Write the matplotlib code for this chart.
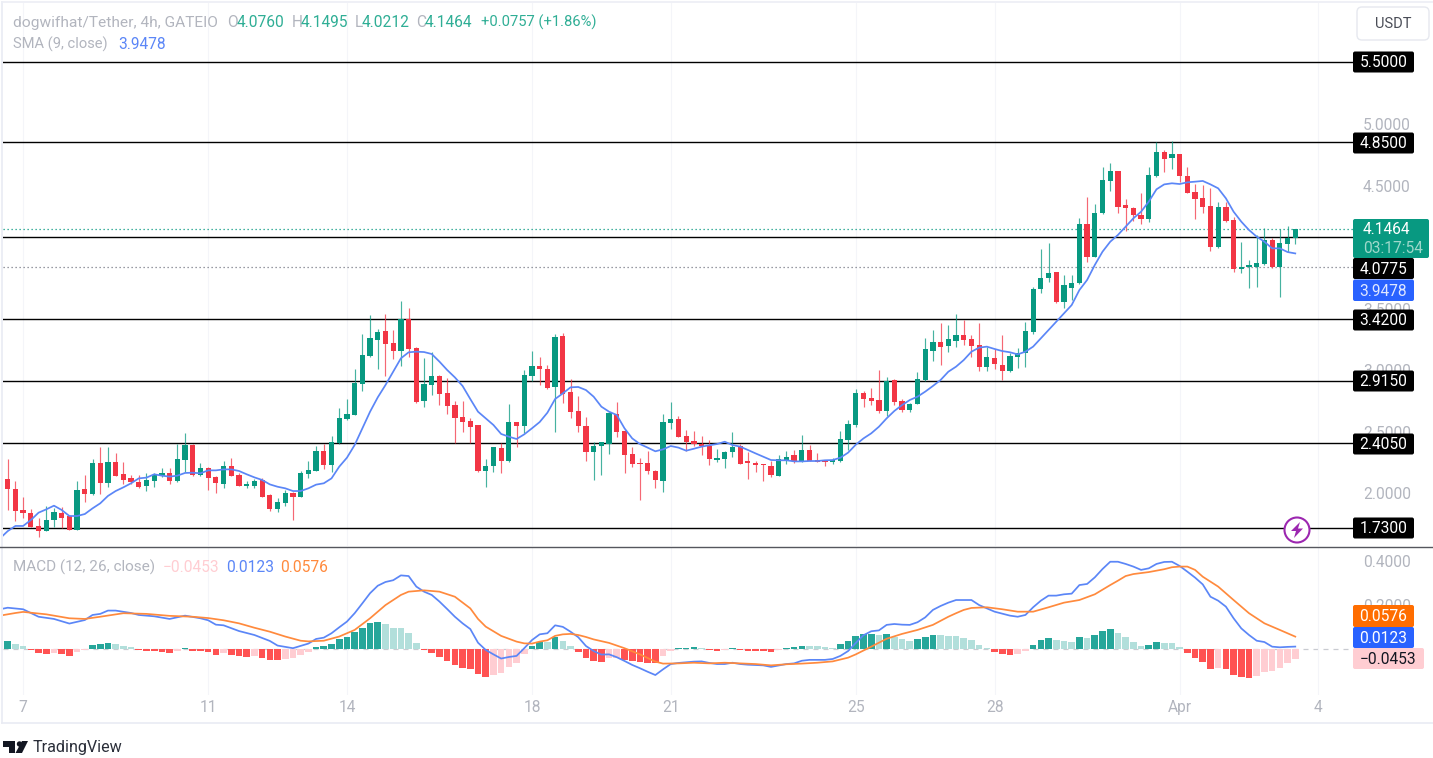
import numpy as np
import matplotlib
matplotlib.use("Agg")
import matplotlib.pyplot as plt
from matplotlib.patches import FancyBboxPatch, Circle, Polygon, Rectangle

# ---------- data ----------
opens = [2.114,2.033,1.862,1.835,1.729,1.694,1.780,1.835,1.810,1.699,
 2.033,1.992,2.241,2.084,2.249,2.157,2.125,2.092,2.060,2.100,
 2.141,2.165,2.100,2.266,2.388,2.144,2.206,2.133,2.076,2.222,
 2.149,2.060,2.060,2.106,1.984,1.870,1.919,2.000,1.970,2.157,
 2.182,2.339,2.225,2.404,2.602,2.634,2.889,3.111,3.244,3.317,
 3.220,3.152,3.412,3.179,2.751,2.881,2.954,2.816,2.715,2.618,
 2.585,2.553,2.176,2.217,2.363,2.257,2.575,2.545,2.954,3.035,
 3.011,2.859,3.276,2.821,2.667,2.545,2.333,2.382,2.398,2.642,
 2.504,2.314,2.244,2.241,2.179,2.100,2.569,2.599,2.463,2.423,
 2.401,2.379,2.271,2.274,2.331,2.382,2.257,2.247,2.236,2.222,
 2.141,2.268,2.306,2.260,2.347,2.271,2.260,2.249,2.257,2.431,
 2.553,2.816,2.772,2.756,2.667,2.916,2.748,2.675,2.724,2.919,
 3.154,3.225,3.195,3.238,3.285,3.249,3.201,3.022,3.095,3.043,
 2.989,3.103,3.141,3.309,3.656,3.745,3.794,3.556,3.669,3.705,
 4.190,3.919,4.274,4.537,4.618,4.344,4.320,4.263,4.230,4.577,
 4.772,4.724,4.756,4.575,4.444,4.396,4.336,4.000,4.328,4.219,
 3.821,3.840,3.837,3.862,4.057,3.837,4.024,4.076]
closes = [2.035,1.856,1.840,1.721,1.694,1.780,1.846,1.797,1.699,2.024,
 1.995,2.241,2.084,2.249,2.141,2.108,2.089,2.051,2.106,2.146,
 2.165,2.100,2.274,2.388,2.144,2.206,2.125,2.084,2.222,2.141,
 2.060,2.068,2.098,1.970,1.870,1.927,1.997,1.970,2.165,2.190,
 2.339,2.225,2.412,2.610,2.642,2.897,3.119,3.257,3.309,3.211,
 3.154,3.412,3.168,2.743,2.889,2.954,2.808,2.707,2.610,2.577,
 2.537,2.176,2.222,2.371,2.257,2.577,2.545,2.962,3.035,3.005,
 2.856,3.268,2.808,2.661,2.545,2.333,2.382,2.415,2.650,2.496,
 2.309,2.233,2.233,2.176,2.103,2.577,2.602,2.455,2.415,2.398,
 2.379,2.274,2.282,2.336,2.374,2.233,2.241,2.225,2.225,2.149,
 2.279,2.295,2.257,2.347,2.260,2.249,2.252,2.266,2.439,2.561,
 2.816,2.767,2.751,2.667,2.911,2.740,2.675,2.724,2.930,3.168,
 3.228,3.187,3.249,3.285,3.244,3.195,3.022,3.103,3.049,2.989,
 3.111,3.135,3.317,3.661,3.751,3.786,3.556,3.688,3.705,4.190,
 3.919,4.279,4.542,4.618,4.328,4.320,4.260,4.230,4.585,4.772,
 4.715,4.756,4.577,4.436,4.388,4.328,4.003,4.328,4.211,3.821,
 3.837,3.846,3.867,4.057,3.837,4.033,4.076,4.1464]
highs = [2.274,2.100,1.965,1.867,1.794,1.894,1.875,1.883,1.813,2.100,
 2.149,2.274,2.371,2.371,2.322,2.249,2.146,2.146,2.165,2.165,
 2.201,2.201,2.398,2.485,2.398,2.247,2.214,2.138,2.263,2.282,
 2.165,2.098,2.111,2.119,1.992,1.959,2.024,2.011,2.182,2.263,
 2.382,2.398,2.463,2.691,2.764,3.005,3.293,3.447,3.331,3.455,
 3.325,3.564,3.504,3.184,3.095,3.144,2.962,2.938,2.745,2.748,
 2.607,2.556,2.279,2.377,2.404,2.724,2.577,3.000,3.152,3.103,
 3.038,3.293,3.298,2.930,2.789,2.618,2.415,2.417,2.659,2.740,
 2.512,2.374,2.282,2.344,2.187,2.642,2.740,2.626,2.512,2.504,
 2.463,2.431,2.355,2.344,2.496,2.398,2.333,2.257,2.236,2.257,
 2.306,2.339,2.350,2.472,2.388,2.322,2.271,2.282,2.504,2.593,
 2.848,2.829,2.856,2.997,2.946,2.924,2.764,2.734,2.981,3.260,
 3.325,3.382,3.366,3.455,3.409,3.285,3.382,3.187,3.171,3.285,
 3.135,3.176,3.388,3.677,3.984,4.033,3.799,3.770,3.775,4.236,
 4.404,4.352,4.650,4.683,4.621,4.388,4.328,4.436,4.650,4.854,
 4.789,4.862,4.756,4.650,4.509,4.501,4.477,4.369,4.369,4.241,
 4.041,3.894,4.098,4.152,4.070,4.144,4.171,4.1495]
lows = [1.862,1.775,1.797,1.721,1.640,1.694,1.721,1.715,1.699,1.699,
 1.927,1.986,1.992,2.046,2.141,2.073,2.073,2.043,2.019,2.051,
 2.127,2.073,2.092,2.168,2.141,2.141,2.024,2.003,2.041,2.141,
 2.060,2.041,2.043,1.970,1.856,1.846,1.897,1.780,1.970,2.125,
 2.182,2.198,2.173,2.398,2.593,2.634,2.832,3.108,3.005,2.954,
 3.087,3.035,3.103,2.729,2.702,2.799,2.715,2.645,2.404,2.496,
 2.404,2.173,2.051,2.173,2.165,2.249,2.377,2.485,2.911,2.881,
 2.843,2.496,2.734,2.610,2.499,2.263,2.106,2.146,2.317,2.458,
 2.165,2.209,1.943,2.152,2.043,2.011,2.520,2.455,2.341,2.382,
 2.306,2.225,2.249,2.201,2.295,2.233,2.117,2.168,2.100,2.133,
 2.141,2.233,2.241,2.249,2.257,2.249,2.220,2.238,2.249,2.350,
 2.537,2.702,2.715,2.653,2.626,2.718,2.661,2.661,2.721,2.913,
 3.070,3.038,3.144,3.184,3.203,3.103,2.995,2.989,3.011,2.919,
 2.986,3.014,3.027,3.293,3.623,3.718,3.547,3.507,3.569,3.699,
 3.878,3.916,4.268,4.453,4.274,4.133,4.211,4.190,4.206,4.572,
 4.607,4.634,4.526,4.436,4.230,4.279,3.967,3.995,4.206,3.799,
 3.786,3.664,3.677,3.854,3.832,3.591,3.962,4.0212]

sma_bar = list(range(0, 87)) + list(range(87, 169))
sma_val = [1.631,1.690,1.732,1.732,1.780,1.840,1.867,1.897,1.862,1.813,1.813,1.829,1.875,1.916,1.976,2.016,2.046,2.079,2.119,2.125,
 2.152,2.141,2.133,2.141,2.163,2.165,2.160,2.184,2.184,2.192,2.192,2.179,2.152,2.127,2.106,2.070,2.051,2.038,2.016,2.016,
 2.038,2.068,2.079,2.119,2.214,2.287,2.390,2.526,2.661,2.778,2.878,2.986,3.095,3.144,3.149,3.146,3.130,3.068,3.000,2.940,
 2.870,2.764,2.661,2.607,2.553,2.480,2.458,2.439,2.477,2.526,2.577,2.653,2.764,2.810,2.859,2.862,2.837,2.783,2.702,2.661,
 2.634,2.526,2.444,2.398,2.369,2.339,2.355,
 2.382,2.369,2.344,2.360,2.377,2.388,2.398,2.417,2.390,2.377,2.350,2.322,2.295,2.268,2.266,2.266,2.257,2.257,2.260,2.260,
 2.266,2.268,2.287,2.328,2.393,2.444,2.485,2.539,2.607,2.667,2.715,2.756,2.783,2.824,2.870,2.919,2.986,3.027,3.081,3.149,
 3.182,3.190,3.171,3.154,3.144,3.127,3.149,3.190,3.257,3.325,3.393,3.461,3.528,3.650,3.732,3.854,3.962,4.043,4.098,4.165,
 4.233,4.287,4.369,4.469,4.509,4.518,4.512,4.526,4.531,4.537,4.509,4.477,4.396,4.287,4.206,4.138,4.084,4.043,3.989,3.989,
 3.959,3.9478]

macd_bar = [0,1,3,5,7,9,11,12,13,14,15,17,18,20,22,24,26,27,28,29,31,33,35,36,38,40,41,42,43,44,45,46,47,48,49,50,51,52,53,54,55,56,57,58,59,60,61,
 62,63,64,65,66,67,68,69,70,71,72,73,74,75,76,77,78,79,80,81,82,83,84,85,86,87,88,89,90,91,92,93,94,95,96,97,99,100,102,103,104,105,107,108,109,110,
 111,112,113,114,115,116,117,118,119,120,121,122,123,124,126,127,129,131,132,133,134,135,136,137,138,139,140,141,142,143,144,145,146,147,148,149,150,
 151,152,153,154,155,156,157,158,159,160,161,162,163,164,165,166,167,168]
macd_val = [.182,.189,.182,.148,.138,.117,.133,.156,.161,.176,.176,.165,.156,.150,.138,.153,.141,.132,.112,.109,.083,.065,.038,.017,.005,.026,.047,.053,.073,.100,.126,.164,.209,.255,.289,.306,.314,.336,.333,.285,.262,.247,.217,.183,.148,.118,.092,
 .030,-.003,-.023,-.042,-.035,-.030,.005,.042,.068,.073,.109,.102,.080,.055,.015,-.008,-.024,-.023,-.036,-.053,-.071,-.086,-.102,-.117,-.091,-.067,-.062,-.059,-.056,-.055,-.062,-.067,-.067,-.061,-.067,-.070,-.073,-.080,-.067,-.064,-.052,-.048,-.048,-.044,-.030,-.008,
 .029,.064,.082,.086,.111,.115,.112,.111,.123,.145,.179,.197,.212,.224,.224,.201,.171,.153,.148,.156,.191,.221,.244,.244,.250,.253,.292,.297,.327,.365,.398,.398,.388,.376,.361,.368,.388,
 .397,.398,.379,.353,.326,.295,.239,.221,.194,.141,.095,.065,.039,.033,.012,.009,.011,.0123]

signal_bar = [0,2,3,6,9,11,13,16,19,22,25,27,29,31,33,35,37,39,40,42,44,46,48,50,52,53,55,57,59,61,62,63,65,67,68,69,70,71,72,73,74,75,76,77,79,81,83,85,86,88,90,92,94,96,98,100,102,104,106,108,110,111,113,115,117,119,121,123,124,125,126,128,130,132,134,136,138,140,142,144,145,146,147,149,151,152,153,154,155,156,158,160,162,164,166,168]
signal_val = [.153,.165,.170,.159,.141,.138,.148,.164,.161,.152,.148,.142,.132,.118,.098,.080,.058,.039,.036,.039,.058,.088,.141,.201,.247,.262,.268,.262,.239,.186,.138,.103,.061,.035,.027,.026,.035,.041,.061,.068,.070,.065,.056,.045,.029,.005,-.023,-.056,-.065,-.064,-.061,-.064,-.061,-.064,-.067,-.073,-.068,-.065,-.061,-.055,-.038,-.023,.012,.048,.070,.088,.111,.148,.164,.179,.188,.191,.182,.171,.171,.191,.212,.224,.250,.292,.312,.333,.342,.351,.364,.373,.376,.376,.361,.330,.285,.224,.164,.118,.088,.0576]

hist_val = [.036,.026,.017,-.003,-.015,-.021,-.015,-.021,-.030,-.011,
 -.005,.021,.022,.027,.026,.017,.011,-.003,-.008,-.009,
 -.010,-.015,-.008,.006,-.008,-.009,-.014,-.026,-.018,-.027,
 -.030,-.033,-.032,-.039,-.048,-.050,-.045,-.041,-.026,-.012,
 .012,.015,.026,.047,.058,.079,.098,.118,.123,.114,
 .098,.097,.073,.027,-.003,-.015,-.035,-.053,-.073,-.086,
 -.089,-.112,-.124,-.115,-.109,-.082,-.064,-.021,.015,.033,
 .032,.056,.036,.015,-.012,-.039,-.053,-.058,-.039,-.038,
 -.050,-.055,-.056,-.061,-.062,-.030,-.006,.006,.007,.011,
 .006,-.005,-.008,-.003,.006,-.003,-.006,-.007,-.008,-.011,
 -.003,.006,.009,.015,.014,.013,.011,.008,.024,.038,
 .061,.070,.071,.064,.070,.055,.048,.038,.045,.056,
 .064,.063,.062,.061,.052,.042,.021,.008,-.011,-.020,
 -.024,-.023,-.009,.021,.042,.052,.044,.039,.035,.058,
 .053,.065,.085,.094,.076,.058,.035,.015,.021,.035,
 .030,.029,.012,-.015,-.041,-.056,-.088,-.086,-.091,-.118,
 -.127,-.132,-.121,-.103,-.100,-.083,-.064,-.0453]

level_price = [5.505, 4.85, 4.0775, 3.412, 2.912, 2.405, 1.714]
time_tick_bar = [3, 27, 45, 69, 87, 111, 129, 153, 171]
time_tick_label = ['7', '11', '14', '18', '21', '25', '28', 'Apr', '4']
price_ticks = [2.0, 2.5, 3.0, 3.5, 4.5, 5.0]
macd_ticks = [0.2, 0.4]

# ---------- style ----------
plt.rcParams['font.family'] = ['Roboto', 'DejaVu Sans']
W, H = 1433, 758
UP, DOWN = '#089981', '#f23645'
GREY = '#b2b5be'
BLUE, ORANGE = '#5b86f7', '#ff8a3d'
LBL = 11.2

fig = plt.figure(figsize=(W / 100, H / 100), dpi=100, facecolor='white')

def axes_px(x0, y0, x1, y1):
    return fig.add_axes([x0 / W, 1 - y1 / H, (x1 - x0) / W, (y1 - y0) / H])

X0, X1 = 3, 1353
bar_px, step = 7.7, 7.71
xlim = (1 + (X0 - bar_px) / step, 1 + (X1 - bar_px) / step)

ax = axes_px(X0, 3, X1, 546)
ax.set_xlim(xlim)
ax.set_ylim(2 + (493 - 546) / 123, 2 + (493 - 3) / 123)
mx = axes_px(X0, 548, X1, 695)
mx.set_xlim(xlim)
mx.set_ylim((649.3 - 695) / 220, (649.3 - 548) / 220)

for a in (ax, mx):
    for s in a.spines.values():
        s.set_visible(False)
    a.yaxis.tick_right()
    a.tick_params(axis='y', length=0, pad=7.2, labelsize=LBL, labelcolor=GREY)
    a.set_xticks(time_tick_bar)
    a.grid(True, axis='x', color='#f4f5f9', lw=0.8, zorder=0)
ax.tick_params(axis='x', length=0, labelbottom=False)
mx.set_xticklabels(time_tick_label)
mx.tick_params(axis='x', length=0, pad=3.5, labelsize=LBL, labelcolor=GREY)
ax.set_yticks(price_ticks)
ax.set_yticklabels(['%.4f' % t for t in price_ticks])
mx.set_yticks(macd_ticks)
mx.set_yticklabels(['%.4f' % t for t in macd_ticks])

# ---------- price pane ----------
n = np.arange(1, len(closes) + 1)
o, c, h, l = map(np.array, (opens, closes, highs, lows))
colors = np.where(c >= o, UP, DOWN)
for p in level_price:
    ax.axhline(p, color='black', lw=1.0, zorder=2)
ax.axhline(closes[-1], color=UP, lw=0.9, ls=(0, (1, 2.2)), zorder=2)
ax.axhline(2 + (493 - 267) / 123, color='#787b86', lw=0.9, ls=(0, (1, 2.2)), zorder=2)
ax.vlines(n, l, h, colors=colors, lw=0.85, alpha=0.75, zorder=3)
ax.bar(n, np.maximum(np.abs(c - o), 0.012), bottom=np.minimum(o, c), width=0.68,
       color=colors, linewidth=0, zorder=4)
ax.plot(sma_bar, sma_val, color=BLUE, lw=1.25, zorder=5, solid_joinstyle='round')

# ---------- MACD pane ----------
mx.axhline(0, color='#c9cbd1', lw=0.9, ls=(0, (4, 4)), zorder=1)
hv = np.array(hist_val)
prev = np.r_[hv[0] - 1, hv[:-1]]
hist_colors = np.where(hv >= 0, np.where(hv > prev, '#26a69a', '#b2dfdb'),
                       np.where(hv > prev, '#ffcdd2', '#ff5252'))
mx.bar(n, hv, width=0.86, color=hist_colors, linewidth=0, zorder=2)
mx.plot(macd_bar, macd_val, color=BLUE, lw=1.25, zorder=3)
mx.plot(signal_bar, signal_val, color=ORANGE, lw=1.25, zorder=4)

# ---------- overlay in pixels ----------
ov = fig.add_axes([0, 0, 1, 1], facecolor='none')
ov.set_xlim(0, W)
ov.set_ylim(H, 0)
ov.axis('off')

ov.plot([2, 2], [2, 723], color='#e9ebf3', lw=1.2)
ov.plot([2, W], [2, 2], color='#eceef5', lw=1.2)
ov.plot([2, W], [723, 723], color='#e9ebf3', lw=1.2)
ov.plot([0, W], [547, 547], color='#55575e', lw=1.0)

def box(x0, x1, y0, y1, bg, txt=None, fg='white', cx=None, size=LBL, ec='none', r=2):
    ov.add_patch(FancyBboxPatch((x0 + r, y0 + r), x1 - x0 - 2 * r, y1 - y0 - 2 * r,
                                boxstyle='round,pad=%g,rounding_size=%g' % (r, r),
                                fc=bg, ec=ec, lw=1, zorder=6))
    if txt:
        ov.text(cx if cx else (x0 + x1) / 2, (y0 + y1) / 2 + 0.8, txt, color=fg, size=size,
                ha='center', va='center', zorder=7)

BL, BR = 1353, 1414
for txt, yc in [('5.5000', 62), ('4.8500', 143), ('3.4200', 320), ('2.9150', 381),
                ('2.4050', 444), ('1.7300', 528)]:
    box(BL, BR, yc - 10.5, yc + 10.5, 'black', txt)
box(BL, 1429, 219, 258, UP)
ov.text(BL + 10, 229.5, '4.1464', color='white', size=LBL, va='center', zorder=7)
ov.text(BL + 10, 248.5, '03:17:54', color='#9ed8cb', size=LBL, va='center', zorder=7)
box(BL, BR, 258, 279, 'black', '4.0775')
box(BL, BR, 279.5, 301, '#2962ff', '3.9478', fg='#dfe7ff')
box(BL, BR, 605, 627, '#ff6d00', '0.0576')
box(BL, BR, 627, 648, '#2962ff', '0.0123')
box(BL, 1424, 648, 669, '#ffcdd2', '\u22120.0453', fg='#131722', cx=1388)
box(1357, 1429, 7, 40, 'white', 'USDT', fg='#4a4d57', ec='#e6e8ef', r=5, size=10.5)

def run(y, parts):
    for x, s, col, size in parts:
        ov.text(x, y, s, color=col, size=size, va='center', ha='left', zorder=7)

VAL = '#2fae95'
S = 11.2
run(22.5, [(13, 'dogwifhat/Tether, 4h, GATEIO', GREY, 11.15), (227, 'O', GREY, S), (237, '4.0760', VAL, S),
         (292, 'H', GREY, S), (301, '4.1495', VAL, S), (355, 'L', GREY, S), (362, '4.0212', VAL, S),
         (416, 'C', GREY, S), (425, '4.1464', VAL, S), (481, '+0.0757 (+1.86%)', VAL, 10.6)])
run(44.5, [(13, 'SMA (9, close)', GREY, 10.6), (118, '3.9478', '#5b86f7', S)])
run(567.5, [(13, 'MACD (12, 26, close)', GREY, 11), (163, '\u22120.0453', '#ffcdd2', S),
          (226, '0.0123', '#5b86f7', S), (280, '0.0576', '#ff8a3d', S)])

# lightning badge
ov.add_patch(Circle((1297, 530), 12.5, fc='white', ec='#9c27b0', lw=1.5, zorder=6))
ov.add_patch(Polygon([(1300, 522), (1291, 531), (1296, 531), (1294, 538), (1303, 528.5), (1298, 528.5)],
                     closed=True, fc='#9c27b0', ec='none', zorder=7))

# TradingView mark
LOGO = '#131722'
ov.add_patch(Polygon([(3, 741), (15.5, 741), (15.5, 753), (9.5, 753), (9.5, 747), (3, 747)],
                     closed=True, fc=LOGO, ec='none', zorder=7))
ov.add_patch(Circle((19.5, 744), 2.7, fc=LOGO, ec='none', zorder=7))
ov.add_patch(Polygon([(22, 741), (28, 741), (22, 753), (15.5, 753)], closed=True, fc=LOGO, ec='none', zorder=7))
ov.text(33, 747.5, 'TradingView', color='#2a2e39', size=11.6, va='center', ha='left', zorder=7)

fig.savefig('out.png', dpi=100, facecolor='white')
